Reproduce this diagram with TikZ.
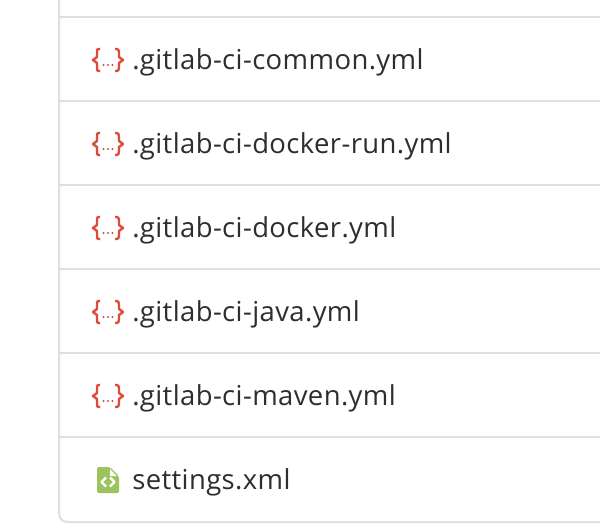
\documentclass[tikz,border=0pt]{standalone}
\usepackage{fontspec}
\setmainfont[LetterSpace=1.4]{Open Sans}
\definecolor{rule}{HTML}{DFDFDF}
\definecolor{ink}{HTML}{2E2E2E}
\definecolor{bracered}{HTML}{DD4B3E}
\definecolor{filegreen}{HTML}{9BC45E}
\tikzset{
  x=0.75pt,y=-0.75pt,
  rowline/.style={draw=rule,line width=1.5pt},
  filename/.style={anchor=base west,inner sep=0pt,text=ink,font=\fontsize{20.6pt}{22pt}\selectfont},
  brace/.style={draw=bracered,line width=1.8pt,line join=round},
  yamlicon/.pic={
    \draw[brace] (100,-11) -- (98.5,-11) .. controls (97,-11) and (97,-10) .. (97,-8) -- (97,-3) -- (93,0) -- (97,3) -- (97,8) .. controls (97,10) and (97,11) .. (98.5,11) -- (100,11);
    \draw[brace] (115,-11) -- (116.5,-11) .. controls (118,-11) and (119,-10) .. (119,-8) -- (119,-3) -- (123,0) -- (119,3) -- (119,8) .. controls (119,10) and (118,11) .. (116.5,11) -- (115,11);
    \fill[bracered] (103.5,5) circle (1.1) (108,5) circle (1.1) (112.5,5) circle (1.1);
  },
}
\begin{document}
\begin{tikzpicture}
\useasboundingbox (0,0) rectangle (600,532);
\fill[white] (0,0) rectangle (600,532);
\draw[rowline] (59,0) -- (59,512) .. controls (59,519) and (62,522) .. (69,522) -- (600,522);
\foreach \y in {17,101,185,269,353,437} \draw[rowline] (59,\y) -- (600,\y);
\foreach \y/\t in {60/.gitlab-ci-common.yml,144/.gitlab-ci-docker-run.yml,228/.gitlab-ci-docker.yml,312/.gitlab-ci-java.yml,396/.gitlab-ci-maven.yml}{
  \pic at (0,\y) {yamlicon};
  \node[filename] at (132,\y+9.5) {\t};
}
\fill[filegreen,rounded corners=1.5] (97,467) -- (110,467) -- (119,476) -- (119,493) -- (97,493) -- cycle;
\fill[white] (110,469) -- (117,476) -- (110,476) -- cycle;
\draw[white,line width=1.8pt,line join=round] (106,477.5) -- (101.5,482) -- (106,486.5) (110,477.5) -- (114.5,482) -- (110,486.5);
\node[filename] at (132,489.5) {settings.xml};
\end{tikzpicture}
\end{document}
